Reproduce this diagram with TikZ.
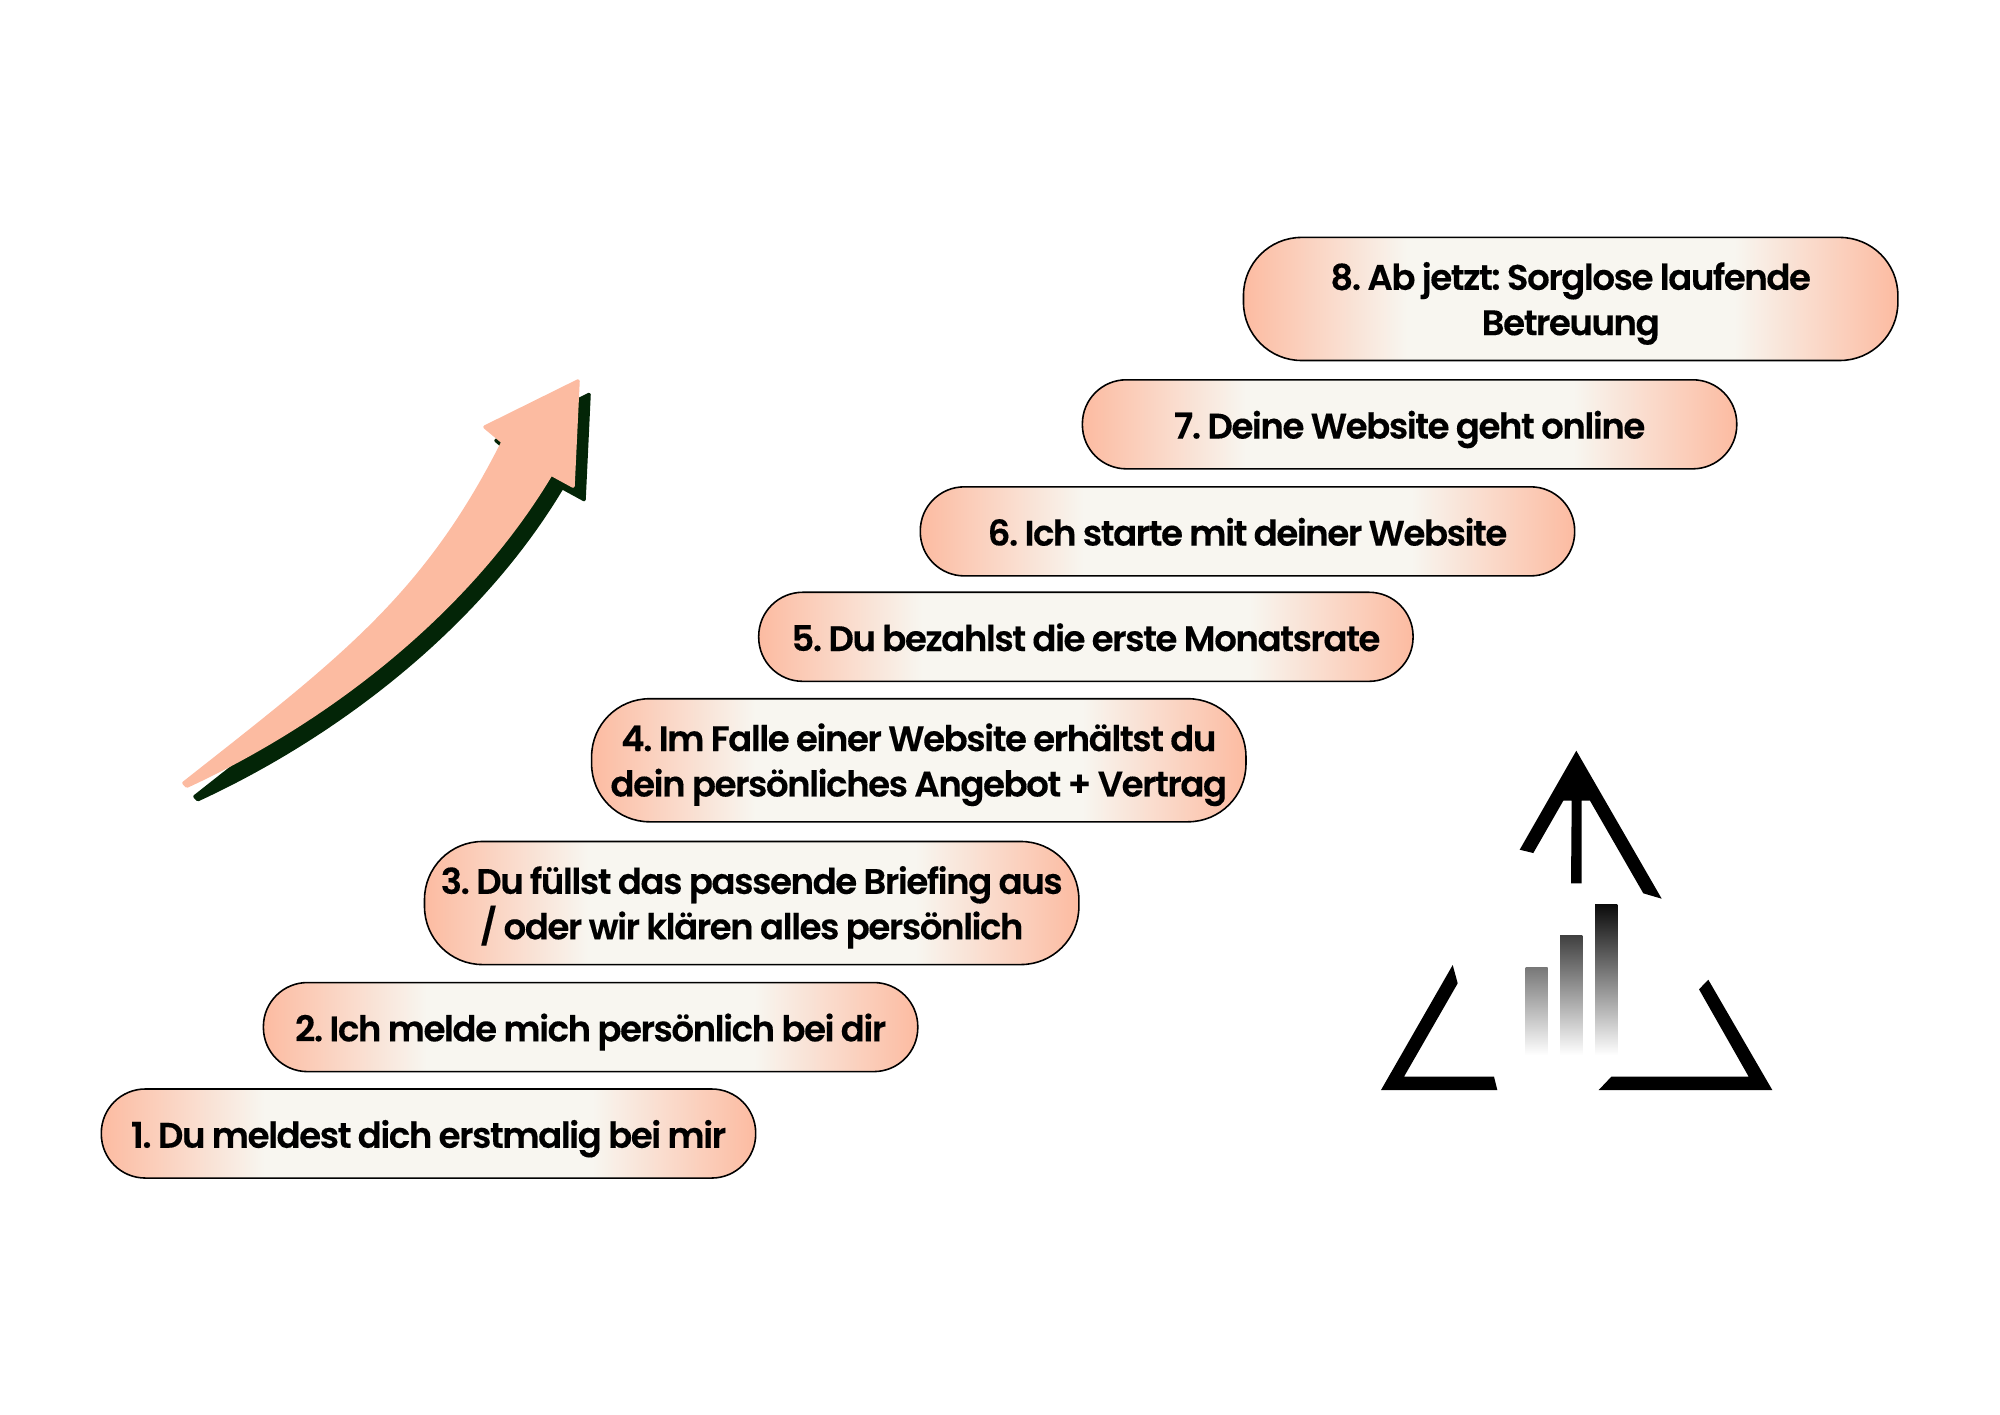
\documentclass[tikz,border=0pt]{standalone}
\usepackage{fontspec}
\setmainfont{Poppins}[BoldFont={Poppins SemiBold}, BoldFeatures={FakeBold=0.25}, LetterSpace=-4, WordSpace=0.9]
\usetikzlibrary{positioning}
\definecolor{arrowpeach}{RGB}{252, 187, 161}
\definecolor{arrowgreen}{RGB}{3, 37, 7}
\definecolor{pillcream}{RGB}{248, 246, 240}
\pgfdeclarehorizontalshading{pillshade}{100bp}{color(0bp)=(arrowpeach); color(25bp)=(arrowpeach); color(37.5bp)=(pillcream); color(62.5bp)=(pillcream); color(75bp)=(arrowpeach); color(100bp)=(arrowpeach)}
\newcommand{\arrowshape}{(184,783) .. controls (340,660) and (425,597) .. (503,442) -- (485,427) -- (578,381) -- (573,486) -- (551,474) .. controls (470,610) and (330,720) .. (187,786) -- cycle}
\begin{document}
\frenchspacing
\begin{tikzpicture}[
    x=0.01cm, y=-0.01cm,
    pill/.style={rectangle, draw=black, line width=0.45pt, shading=pillshade, minimum width=6.54cm, minimum height=0.89cm, rounded corners=0.44cm, inner sep=0pt, align=center, text height=8.1pt, text depth=0pt, font=\fontsize{10.1}{12.9}\selectfont\bfseries},
    tallpill/.style={pill, minimum height=1.23cm, rounded corners=0.58cm, text height=20.6pt},
    logopart/.style={fill=black},
    logobar/.style={bottom color=white}
]
    \useasboundingbox (0,0) rectangle (2000,1414);

    % Steps
    \node[pill] (step1) at (428.5,1133.5) {1. Du meldest dich erstmalig bei mir};
    \node[pill, above=0.158cm of step1, xshift=1.62cm] (step2) {2. Ich melde mich persönlich bei dir};
    \node[tallpill, above=0.164cm of step2, xshift=1.61cm] (step3) {3. Du füllst das passende Briefing aus\\/ oder wir klären alles persönlich};
    \node[tallpill, above=0.181cm of step3, xshift=1.67cm] (step4) {4. Im Falle einer Website erhältst du\\dein persönliches Angebot + Vertrag};
    \node[pill, above=0.158cm of step4, xshift=1.67cm] (step5) {5. Du bezahlst die erste Monatsrate};
    \node[pill, above=0.148cm of step5, xshift=1.615cm] (step6) {6. Ich starte mit deiner Website};
    \node[pill, above=0.164cm of step6, xshift=1.62cm] (step7) {7. Deine Website geht online};
    \node[tallpill, above=0.177cm of step7, xshift=1.61cm] (step8) {8. Ab jetzt: Sorglose laufende\\Betreuung};

    % Big arrow
    \draw[arrowgreen, fill=arrowgreen, line width=1pt, line join=round, xshift=0.11cm, yshift=-0.135cm] \arrowshape;
    \draw[arrowpeach, fill=arrowpeach, line width=1pt, line join=round] \arrowshape;

    % Logo
    \fill[logopart] (1576.3,750.7) -- (1661.7,898.7) -- (1643.3,893.3) -- (1590,800.7) -- (1581.7,800.7) -- (1581.7,883.3) -- (1571,883.3) -- (1571.7,800.7) -- (1563.3,800.7) -- (1533.3,853) -- (1519.7,849.7) -- cycle;
    \fill[logopart] (1452.7,965) -- (1457.7,983.3) -- (1404,1076.7) -- (1494,1076.7) -- (1497.3,1090) -- (1381,1090) -- cycle;
    \fill[logopart] (1708.3,979.7) -- (1772.3,1090) -- (1598.7,1090) -- (1611.3,1076.7) -- (1748.7,1076.7) -- (1699,989.3) -- cycle;

    % Bars
    \shade[logobar, top color=black!53] (1525.7,967.3) rectangle (1547.7,1055);
    \shade[logobar, top color=black!75] (1560,935) rectangle (1582.3,1055);
    \shade[logobar, top color=black!96] (1595,904) rectangle (1617.3,1055);
\end{tikzpicture}
\end{document}
